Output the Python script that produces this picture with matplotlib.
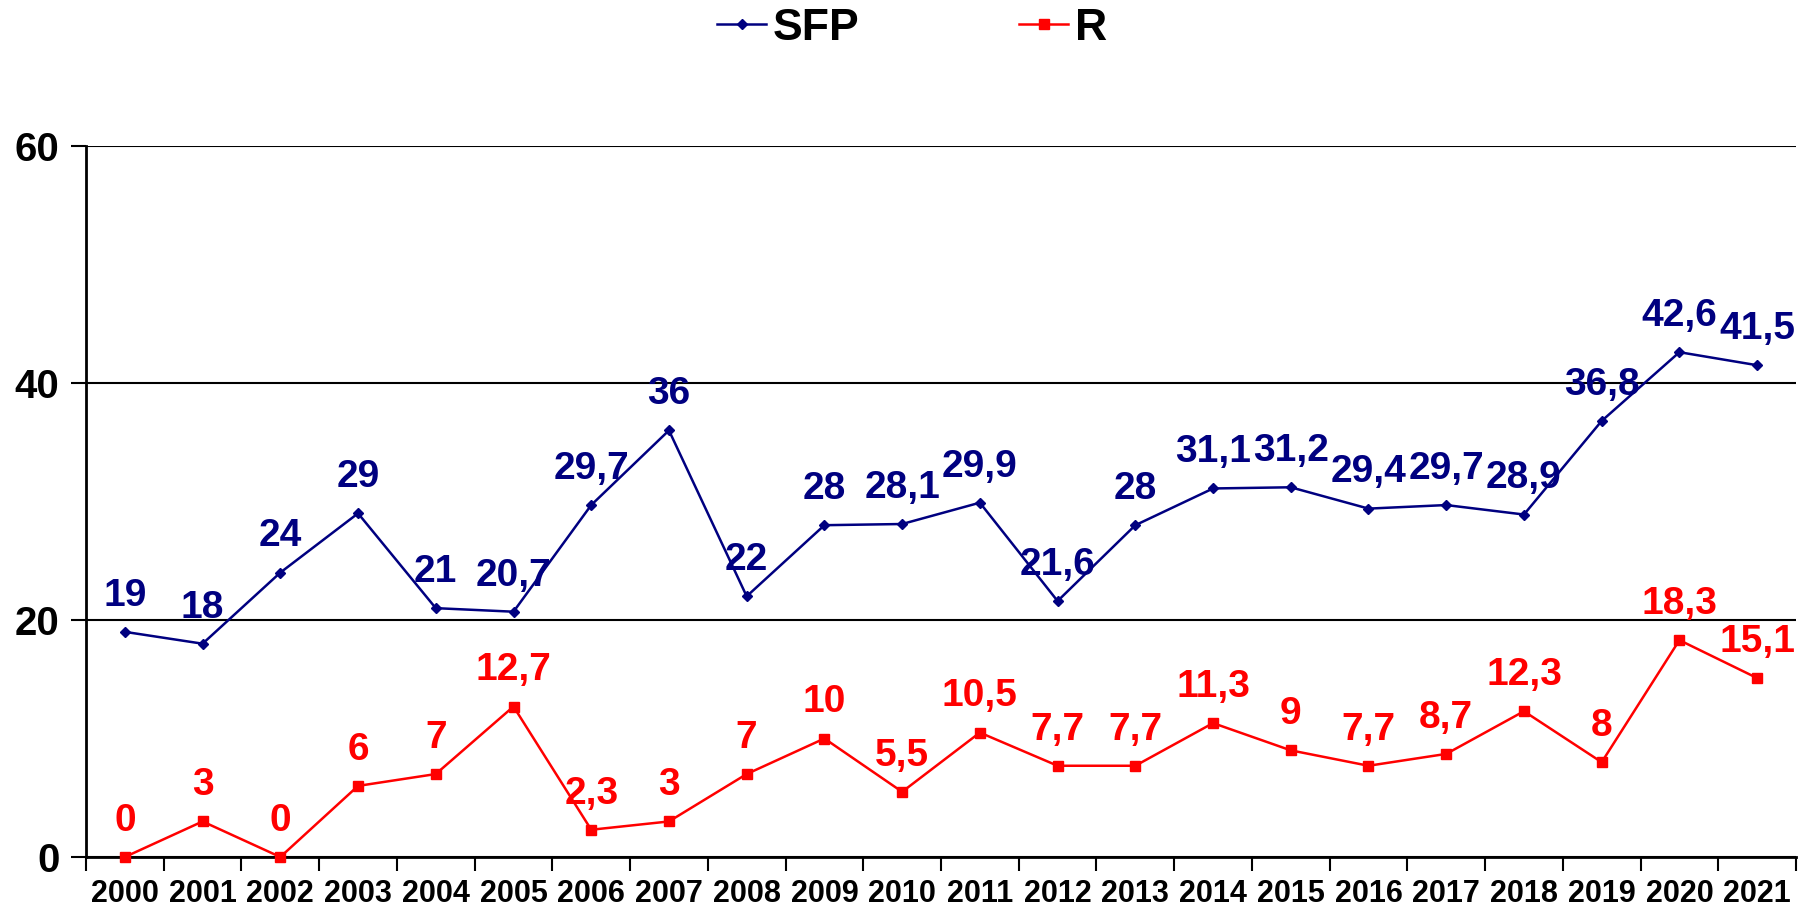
import matplotlib.pyplot as plt

plt.rcParams['font.family'] = ['Liberation Sans', 'DejaVu Sans']
plt.rcParams['font.weight'] = 'bold'

years = [str(y) for y in range(2000, 2022)]
sfp = [19, 18, 24, 29, 21, 20.7, 29.7, 36, 22, 28, 28.1, 29.9, 21.6, 28,
       31.1, 31.2, 29.4, 29.7, 28.9, 36.8, 42.6, 41.5]
r = [0, 3, 0, 6, 7, 12.7, 2.3, 3, 7, 10, 5.5, 10.5, 7.7, 7.7,
     11.3, 9, 7.7, 8.7, 12.3, 8, 18.3, 15.1]

navy = '#000080'
red = '#FF0000'

fig = plt.figure(figsize=(18.08, 9.11), dpi=100)
ax = fig.add_axes([86 / 1808, 1 - 857 / 911, (1796 - 86) / 1808, (857 - 146) / 911])

x = list(range(len(years)))
ax.plot(x, sfp, color=navy, lw=1.8, marker='D', ms=5.5, label='SFP', clip_on=False, zorder=3)
ax.plot(x, r, color=red, lw=1.8, marker='s', ms=7, label='R', clip_on=False, zorder=3)

def lab(v):
    return ('%g' % v).replace('.', ',')

for xi, v in zip(x, sfp):
    ax.annotate(lab(v), (xi, v), xytext=(0, 26), textcoords='offset points',
                ha='center', va='center', color=navy, fontsize=28, fontweight='bold')
for xi, v in zip(x, r):
    ax.annotate(lab(v), (xi, v), xytext=(0, 26), textcoords='offset points',
                ha='center', va='center', color=red, fontsize=28, fontweight='bold')

ax.set_xlim(-0.5, len(years) - 0.5)
ax.set_ylim(0, 60)
ax.set_yticks([0, 20, 40, 60])
ax.tick_params(axis='y', labelsize=29, length=11, width=1.5, pad=8)
ax.set_xticks(x)
ax.set_xticklabels(years)
ax.set_xticks([i - 0.5 for i in range(len(years) + 1)], minor=True)
ax.tick_params(axis='x', which='major', length=0, labelsize=22, pad=16)
ax.tick_params(axis='x', which='minor', length=10, width=1.5)
ax.yaxis.grid(True, color='black', lw=1.5)
ax.set_axisbelow(True)
for s in ['top', 'right']:
    ax.spines[s].set_visible(False)
for s in ['left', 'bottom']:
    ax.spines[s].set_linewidth(2)

fig.legend(loc='center', bbox_to_anchor=(912 / 1808, 1 - 28 / 911), ncol=2,
           frameon=False, prop={'size': 32, 'weight': 'bold'}, handlelength=1.1,
           handletextpad=0.15, columnspacing=3.6, borderaxespad=0)

fig.savefig('out.png', dpi=100)
